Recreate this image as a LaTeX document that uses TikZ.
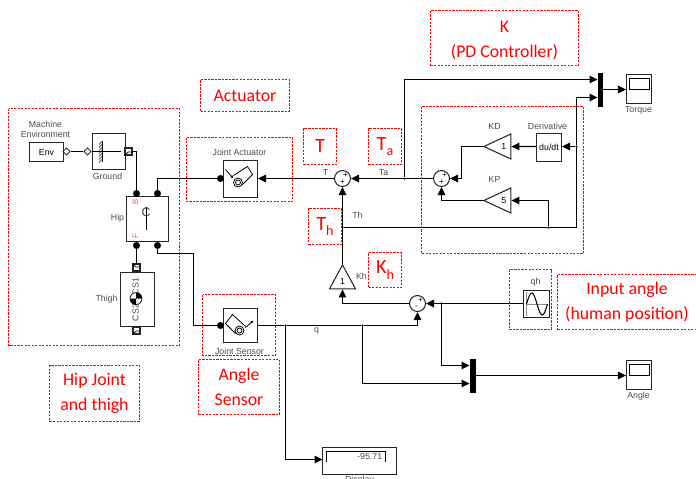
\documentclass[tikz,border=0pt]{standalone}
\usepackage{fontspec}
\setmainfont{Liberation Sans}
\newfontfamily\notefont{Carlito}
\usetikzlibrary{arrows.meta,shapes.geometric}
\newcommand{\lowidx}[1]{\raisebox{-0.55ex}{\fontsize{8}{8}\selectfont #1}}
\begin{document}
\begin{tikzpicture}[
    x=0.02cm, y=-0.02cm,
    boxsize/.style 2 args={minimum width=#1*0.2mm, minimum height=#2*0.2mm},
    wire/.style={draw=black, line width=0.6pt},
    signal/.style={wire, -{Triangle[length=1.6mm,width=1.5mm]}},
    block/.style={draw=black!85, fill=white, line width=0.6pt, inner sep=0pt},
    sumpoint/.style={block, circle, minimum size=3.2mm},
    gain/.style={block, isosceles triangle, isosceles triangle stretches,
        shape border rotate=180, anchor=apex, boxsize={25}{27}, font=\fontsize{5}{6}\selectfont},
    mux/.style={fill=black, inner sep=0pt},
    joint dot/.style={circle, fill=black, inner sep=0pt, minimum size=1.4mm},
    port box/.style={block, boxsize={7}{7}},
    port mark/.style={diamond, draw=black!80, fill=white, inner sep=0pt, minimum size=1.5mm, line width=0.5pt},
    junction/.style={circle, fill=black, inner sep=0pt, minimum size=0.5mm},
    port label/.style={font=\fontsize{5}{6}\selectfont, text=black!70, inner sep=0pt, align=center},
    sign/.style={font=\fontsize{4.5}{5}\selectfont, inner sep=0pt},
    note/.style={draw=red, dash pattern=on 1.3pt off 0.7pt, line width=0.5pt, text=red, inner sep=0pt,
        align=center, font=\notefont\fontsize{10.1}{14}\selectfont},
    symbol note/.style={note, font=\notefont\fontsize{11.5}{14}\selectfont},
    frame/.style={draw=red, dash pattern=on 1.3pt off 0.7pt, line width=0.5pt}
]
    \useasboundingbox (-0.5,-0.5) rectangle (695.5,477.5);

    % Multibody blocks on the left.
    \node[block, boxsize={34}{19}, font=\fontsize{5}{6}\selectfont] (env) at (46,151.5) {Env};
    \node[port mark] (envport) at (66,151) {};
    \node[port mark] (groundin) at (87,151) {};
    \node[block, boxsize={33}{36}] (ground) at (108.5,151) {};
    \node[port box] (groundout) at (128,151) {};
    \node[block, boxsize={42}{45}] (hip) at (147,218.5) {};
    \node[joint dot] (hipba) at (136,193) {};
    \node[joint dot] (hipbb) at (157,193) {};
    \node[joint dot] (hipfa) at (136,245) {};
    \node[joint dot] (hipfb) at (157,245) {};
    \node[block, boxsize={34}{54}] (thigh) at (137,299) {};
    \node[port box] (thighin) at (136,267) {};
    \node[port box] (thighout) at (136,330) {};

    % Joints, sums and gains.
    \node[block, boxsize={34}{37}] (actuator) at (240,178.5) {};
    \node[joint dot] (actuatordot) at (220,178) {};
    \node[block, boxsize={34}{34}] (sensor) at (240,325) {};
    \node[joint dot] (sensordot) at (220,325) {};
    \node[sumpoint] (sumt) at (342,178) {};
    \node[sumpoint] (sumk) at (441,178) {};
    \node[sumpoint] (sumq) at (417,303) {};
    \node[gain] (kd) at (482,146) {1};
    \node[gain] (kp) at (482,200) {5};
    \node[gain, shape border rotate=90, boxsize={26}{24}] (kh) at (342,263) {1};
    \node[block, boxsize={25}{28}, font=\fontsize{5}{6}\selectfont] (deriv) at (548.5,147) {du/dt};
    \node[mux, boxsize={5}{34}] (muxtorque) at (599.5,89) {};
    \node[mux, boxsize={6}{34}] (muxangle) at (472,375) {};
    \node[block, boxsize={25}{29}] (torque) at (638.5,88.5) {};
    \node[block, boxsize={25}{29}] (angle) at (638.5,374.5) {};
    \node[block, boxsize={26}{27}] (qh) at (536,303.5) {};
    \node[block, boxsize={74}{27}] (display) at (359,460.5) {};

    % Branch points.
    \node[junction] (jta) at (404,178) {};
    \node[junction] (jth) at (342,227) {};
    \node[junction] (jkp) at (548,227) {};
    \node[junction] (jdt) at (576,146) {};
    \node[junction] (jqa) at (285,325) {};
    \node[junction] (jqb) at (362,325) {};
    \node[junction] (jqh) at (441,303) {};
    \coordinate (hipturn) at (193,253);
    \coordinate (muxtorquetop) at (597,79);
    \coordinate (muxtorquelow) at (597,97);
    \coordinate (muxangletop) at (469,365);
    \coordinate (muxanglelow) at (469,383);
    \coordinate (displayin) at (322,459);

    % Wires.
    \draw[wire] (envport) -- (groundin);
    \draw[wire] (groundin) -- (ground.center);
    \draw[wire] (groundout.east) -| (hipba);
    \draw[wire] (hipfa) -- (thighin);
    \draw[wire] (hipbb) |- (actuatordot);
    \draw[wire] (hipfb) |- (hipturn) |- (sensordot);
    \draw[signal] (sumt.west) -- (sumt.west -| actuator.east);
    \draw[signal] (sumk.west) -- (sumt.east);
    \draw[signal] (jta) |- (muxtorquetop);
    \draw[signal] (kh.apex) -- (sumt.south);
    \draw[signal] (jth) -| (jdt) |- (muxtorquelow);
    \draw[signal] (jkp) |- (kp.east);
    \draw[signal] (jdt) -- (jdt -| deriv.east);
    \draw[signal] (jdt -| deriv.west) -- (kd.east);
    \draw[signal] (kd.apex) -| ([xshift=20*0.2mm]sumk.center) -- (sumk.east);
    \draw[signal] (kp.apex) -| (sumk.south);
    \draw[signal] (muxtorque.east) -- (muxtorque.east -| torque.west);
    \draw[signal] (sumq.west) -| (kh.south);
    \draw[signal] (sumq.east -| qh.west) -- (sumq.east);
    \draw[signal] (sensor.east) -- (jqa) -- (jqb) -| (sumq.south);
    \draw[signal] (jqa) |- (displayin);
    \draw[signal] (jqb) |- (muxanglelow);
    \draw[signal] (jqh) |- (muxangletop);
    \draw[signal] (muxangle.east) -- (muxangle.east -| angle.west);

    % Block faces.
    \draw[wire, line width=0.5pt] (ground.center) ++(-7,-11) -- ++(0,21);
    \draw[wire, line width=0.5pt] (ground.center) -- ++(12,0);
    \foreach \s in {-10,-7,...,8} {
        \draw[wire, line width=0.3pt] (101.5,151+\s) -- ++(-3,3);
    }
    \node[font=\fontsize{7}{7}\selectfont, text=black!75] (hipmark) at (145.5,212) {C};
    \draw[wire, line width=0.5pt] (145.5,206) -- (145.5,229);
    \node[font=\fontsize{4.5}{5}\selectfont, text=magenta!70, rotate=90] (hipb) at (135,201) {B};
    \node[font=\fontsize{4.5}{5}\selectfont, text=magenta!70, rotate=90] (hipf) at (135,236) {F};
    \node[port label, rotate=90] (thighcsa) at (135,286) {CS1};
    \node[port label, rotate=90] (thighcsb) at (135,312) {CS2};
    \fill[white] (135.5,298) circle (6);
    \fill[black] (135.5,298) -- (141.5,298) arc (0:-90:6) -- cycle;
    \fill[black] (135.5,298) -- (129.5,298) arc (180:90:6) -- cycle;
    \draw[wire, line width=0.4pt] (135.5,298) circle (6);
    \draw[wire, line width=0.4pt] (groundout.south west) -- ++(3.5,-3.5) -- ++(3.5,0);
    \draw[wire, line width=0.4pt] (thighin.north west) -- ++(3.5,3.5) -- ++(3.5,0);
    \draw[wire, line width=0.4pt] (thighout.south west) -- ++(3.5,-3.5) -- ++(3.5,0);

    \draw[wire, line width=0.45pt] (233,175) -- (247,166) -- (252,174) -- (242,184);
    \draw[wire, line width=0.45pt] (237.5,182) circle (4.5) (237.5,182) circle (2.5);
    \draw[wire, line width=0.45pt, -{Latex[length=0.6mm,width=0.6mm]}] (225,169) -- (233,178);

    \draw[wire, line width=0.45pt] (245,326) -- (232,314) -- (225,323) -- (235,333);
    \draw[wire, line width=0.45pt] (239,330) circle (4.5) (239,330) circle (2.5);
    \draw[wire, line width=0.45pt, -{Latex[length=0.6mm,width=0.6mm]}] (245,327) -- (253,320);

    \node[sign] (sumta) at (345,174.5) {+};
    \node[sign] (sumtb) at (342,181.5) {+};
    \node[sign] (sumka) at (444,174.5) {+};
    \node[sign] (sumkb) at (441,181.5) {+};
    \node[sign] (sumqa) at (420,300) {+};
    \node[sign] (sumqb) at (416,307) {-};

    \foreach \sc in {torque,angle} {
        \draw[wire, line width=0.5pt] ([xshift=3*0.2mm,yshift=-4*0.2mm]\sc.north west)
            rectangle ([xshift=-3*0.2mm,yshift=-15*0.2mm]\sc.north east);
    }
    \draw[draw=black!45, line width=0.5pt] (qh.center) ++(-10,-12) -- ++(0,24) (qh.center) ++(-11,0) -- ++(22,0);
    \draw[wire, line width=0.6pt] plot[domain=0:360, samples=40] ({526+21*\x/360},{303.5-11*sin(\x)});
    \draw[wire, line width=0.5pt] (326,461) -- (326,451) -- (385,451) -- (385,461);
    \node[port label, anchor=east] (displayvalue) at (382,455.5) {-95.71};

    % Labels.
    \node[port label] (envlabel) at (45,129) {Machine\\Environment};
    \node[port label] (groundlabel) at (107,176) {Ground};
    \node[port label] (hiplabel) at (117,218) {Hip};
    \node[port label] (thighlabel) at (106,299) {Thigh};
    \node[port label] (actuatorlabel) at (239,152) {Joint Actuator};
    \node[port label] (sensorlabel) at (239,351) {Joint Sensor};
    \node[port label] (tlabel) at (325,171.5) {T};
    \node[port label] (talabel) at (383,172) {Ta};
    \node[port label] (thlabel) at (357,215) {Th};
    \node[port label] (qlabel) at (316,331) {q};
    \node[port label] (khlabel) at (361,276) {Kh};
    \node[port label] (kdlabel) at (494,126) {KD};
    \node[port label] (kplabel) at (494,179) {KP};
    \node[port label] (derivlabel) at (547,126) {Derivative};
    \node[port label] (torquelabel) at (638,110) {Torque};
    \node[port label] (anglelabel) at (638,396) {Angle};
    \node[port label] (qhlabel) at (535,282) {qh};
    \node[port label] (displaylabel) at (359,479.5) {Display};

    % Red annotations.
    \draw[frame] (8,108) rectangle (179,345);
    \draw[frame] (186,137) rectangle (292,201);
    \draw[frame] (421,106) rectangle (583,253);
    \draw[frame] (202,294) rectangle (275,355);
    \draw[frame] (509,269) rectangle (551,329);
    \node[note, boxsize={89}{32}] (actuatornote) at (244.5,95) {Actuator};
    \node[note, boxsize={148}{55}] (knote) at (504,37.5) {\rule{0pt}{9.5pt}K\\(PD Controller)};
    \node[symbol note, boxsize={33}{36}] (tnote) at (319.5,146) {T};
    \node[symbol note, boxsize={33}{36}] (tanote) at (384.5,146) {T\lowidx{a}};
    \node[symbol note, boxsize={33}{36}] (thnote) at (324.5,226) {T\lowidx{h}};
    \node[symbol note, boxsize={33}{35}] (khnote) at (384.5,269.5) {K\lowidx{h}};
    \node[note, boxsize={81}{55}] (anglenote) at (238.5,386.5) {Angle\\Sensor};
    \node[note, boxsize={90}{56}] (hipnote) at (94,393) {Hip Joint\\and thigh};
    \node[note, boxsize={139}{55}] (inputnote) at (626.5,301.5) {Input angle\\(human position)};
\end{tikzpicture}
\end{document}
